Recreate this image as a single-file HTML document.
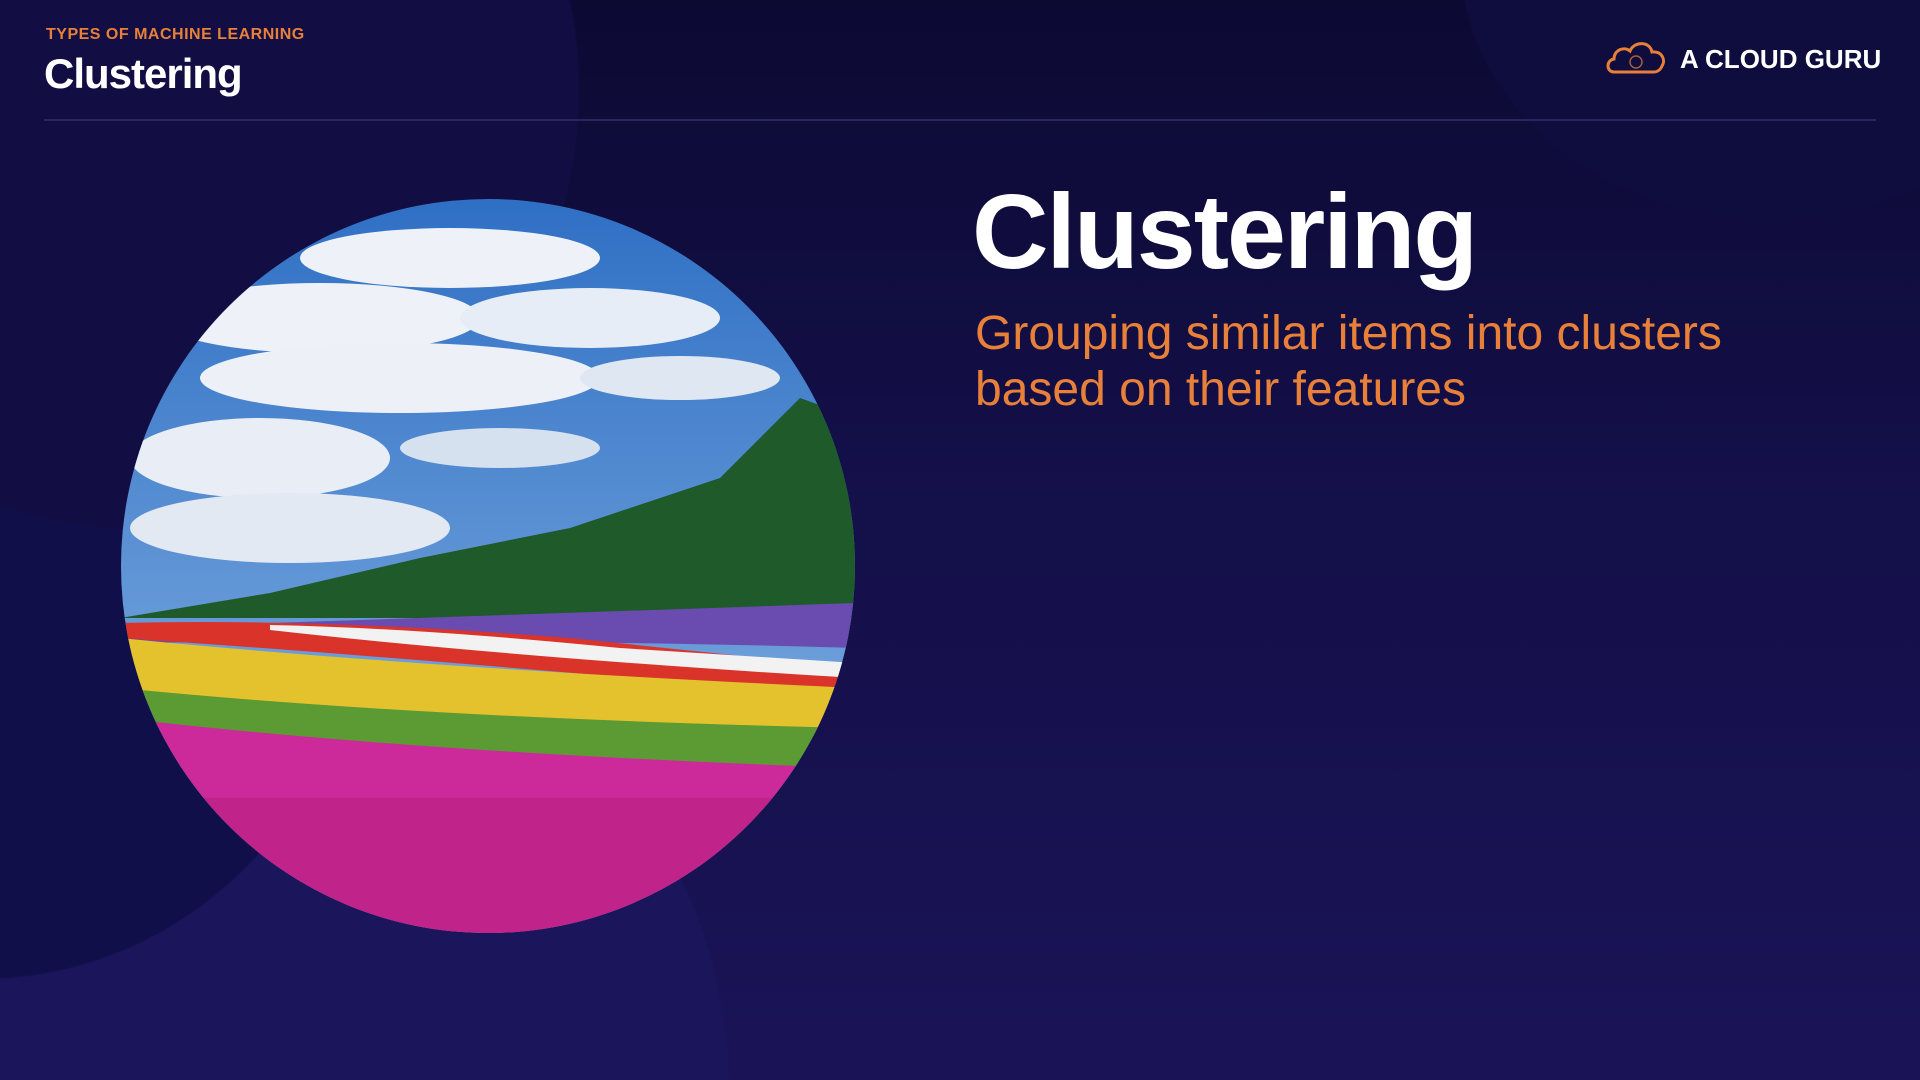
<!DOCTYPE html>
<html><head><meta charset="utf-8"><style>
html,body{margin:0;padding:0;width:1920px;height:1080px;overflow:hidden}
body{position:relative;font-family:"Liberation Sans",sans-serif;
background:
radial-gradient(circle 440px at 140px 90px,#120e44 99.5%,transparent 100%),
radial-gradient(ellipse 380px 390px at -20px 590px,#110f49 99.5%,transparent 100%),
radial-gradient(circle 490px at 240px 1090px,#1b155c 99.5%,transparent 100%),
radial-gradient(ellipse 310px 260px at 1770px -40px,#0f0c3e 99.5%,transparent 100%),
linear-gradient(180deg,#0c0a33 0%,#130f47 40%,#1a1457 100%);}
</style></head><body>
<div style="position:absolute;left:46px;top:26px;color:#e8803a;font-weight:bold;font-size:16px;letter-spacing:0.5px">TYPES OF MACHINE LEARNING</div>
<div style="position:absolute;left:44px;top:50px;color:#fff;font-weight:bold;font-size:42px;letter-spacing:-1px">Clustering</div>
<div style="position:absolute;left:44px;top:119px;width:1832px;height:2px;background:#2a2660"></div>
<svg style="position:absolute;left:1604px;top:38px" width="64" height="40" viewBox="0 0 64 40"><path d="M10 34 C2 34 2 22 10 21 C10 12 20 8 26 13 C30 3 46 3 48 14 C58 13 62 22 58 28 C56 33 52 34 50 34 Z" fill="none" stroke="#e8803a" stroke-width="3"/><circle cx="32" cy="24" r="6" fill="none" stroke="#e8803a" stroke-width="1.5" opacity=".7"/></svg>
<div style="position:absolute;left:1680px;top:44px;color:#fff;font-weight:bold;font-size:26px">A CLOUD GURU</div>
<svg style="position:absolute;left:120px;top:198px" width="736" height="736" viewBox="0 0 736 736">
<defs><clipPath id="c"><circle cx="368" cy="368" r="367"/></clipPath>
<linearGradient id="sky" x1="0" y1="0" x2="0" y2="1"><stop offset="0" stop-color="#2f6fc4"/><stop offset="1" stop-color="#8db8e6"/></linearGradient></defs>
<g clip-path="url(#c)">
<rect width="736" height="736" fill="url(#sky)"/>
<ellipse cx="330" cy="60" rx="150" ry="30" fill="#eef2f8"/>
<ellipse cx="200" cy="120" rx="160" ry="35" fill="#eef2f8"/>
<ellipse cx="470" cy="120" rx="130" ry="30" fill="#e6edf6"/>
<ellipse cx="280" cy="180" rx="200" ry="35" fill="#edf1f7"/>
<ellipse cx="560" cy="180" rx="100" ry="22" fill="#dfe7f2"/>
<ellipse cx="140" cy="260" rx="130" ry="40" fill="#e9eef6"/>
<ellipse cx="170" cy="330" rx="160" ry="35" fill="#e2e9f3"/>
<ellipse cx="380" cy="250" rx="100" ry="20" fill="#d6e1ef"/>
<path d="M0 420 L150 395 L300 360 L450 330 L600 280 L680 200 L736 220 L736 420 Z" fill="#1f5a2a"/>
<path d="M0 430 L736 410 L736 440 L0 440 Z" fill="#2c6b30"/>
<path d="M0 430 Q300 420 736 405 L736 450 Q400 440 0 445 Z" fill="#6a4bb0"/>
<path d="M0 425 Q200 420 450 440 L736 470 L736 500 Q300 460 0 440 Z" fill="#d9332a"/>
<path d="M150 427 Q300 430 500 450 L736 465 L736 480 Q400 460 150 432 Z" fill="#f2f2f2"/>
<path d="M0 440 Q300 470 736 490 L736 540 Q300 520 0 500 Z" fill="#e3c22e"/>
<path d="M0 490 Q300 520 736 530 L736 580 Q300 560 0 530 Z" fill="#5c9a34"/>
<path d="M0 520 Q300 555 736 570 L736 736 L0 736 Z" fill="#cc2a9a"/>
<rect y="600" width="736" height="136" fill="#b8207f" opacity=".6"/>
</g></svg>
<div style="position:absolute;left:972px;top:172px;color:#fff;font-weight:bold;font-size:106px;letter-spacing:-2px">Clustering</div>
<div style="position:absolute;left:975px;top:306px;color:#e8803a;font-size:48px;line-height:56px">Grouping similar items into clusters<br>based on their features</div>
</body></html>
